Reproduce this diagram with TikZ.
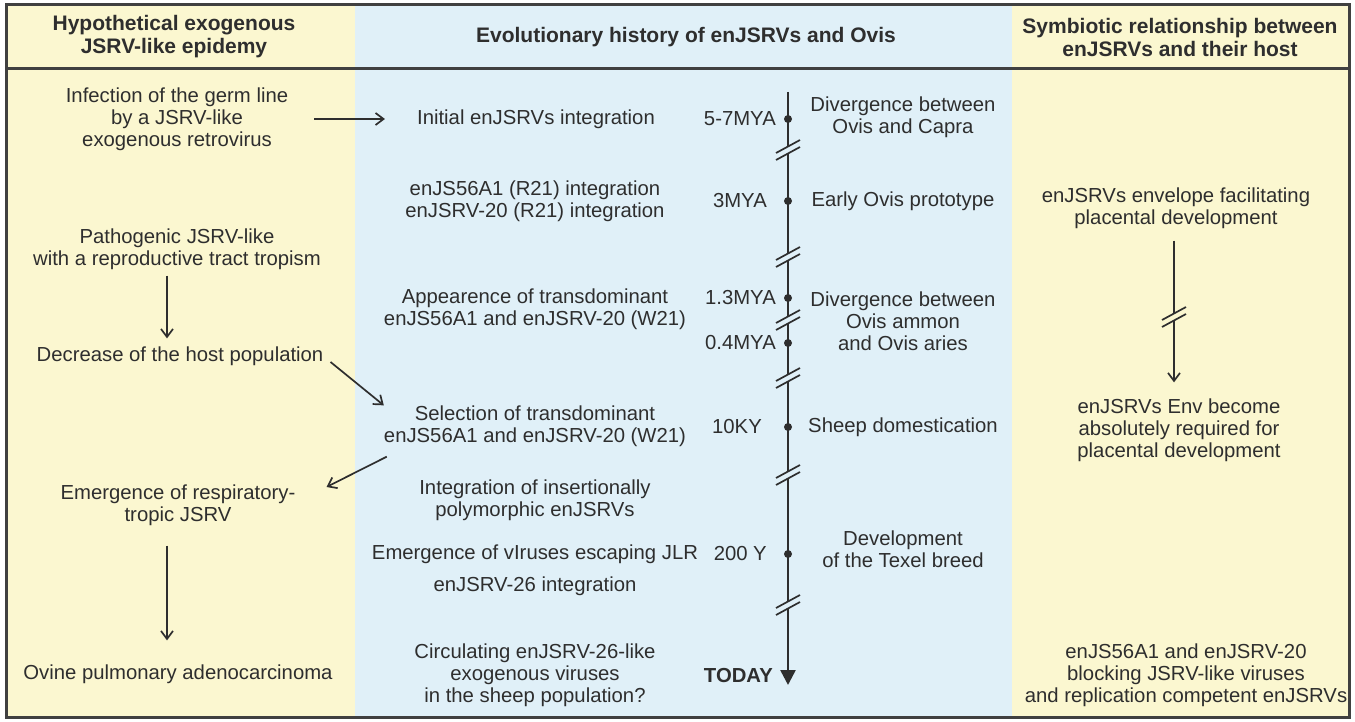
\documentclass[tikz,border=0pt]{standalone}
\usepackage{fontspec}
\setmainfont{Liberation Sans}
\usetikzlibrary{arrows.meta}

\definecolor{paleyellow}{HTML}{FBF7D0}
\definecolor{paleblue}{HTML}{E0F0F8}
\definecolor{inkgray}{HTML}{2E2E2E}
\definecolor{framegray}{HTML}{404040}

\tikzset{
  txt/.style={align=center, inner sep=0pt, text=inkgray, font=\fontsize{20.3}{22}\selectfont},
  hdr/.style={txt, font=\fontsize{21}{23}\selectfont\bfseries},
  flow/.style={draw=inkgray, line width=1.7pt, -{Straight Barb[length=8pt,width=12pt]}},
  timeline/.style={draw=inkgray, line width=2.6pt, -{Triangle[length=15pt,width=15pt]}},
  brk/.style={draw=inkgray, line width=1.7pt}
}

\begin{document}
\begin{tikzpicture}[x=1pt,y=-1pt]
                    \useasboundingbox (0,0) rectangle (1355,722);
                    \fill[paleyellow] (6,5) rectangle (355,717);
                    \fill[paleblue] (355,5) rectangle (1012,717);
                    \fill[paleyellow] (1012,5) rectangle (1349,717);
                    \draw[framegray, line width=3pt] (6,5) rectangle (1349,717);
                    \draw[framegray, line width=3pt] (6,69) -- (1349,69);

                    % headers
                    \node[hdr] (hleft) at (174,37) {Hypothetical exogenous\\JSRV-like epidemy};
                    \node[hdr] (hmid) at (686,37) {Evolutionary history of enJSRVs and Ovis};
                    \node[hdr] (hright) at (1180,37) {Symbiotic relationship between\\enJSRVs and their host};

                    % left column
                    \node[txt] (infect) at (177,119) {Infection of the germ line\\by a JSRV-like\\exogenous retrovirus};
                    \node[txt] (patho) at (177,249) {Pathogenic JSRV-like\\with a reproductive tract tropism};
                    \node[txt] (decrease) at (180,356) {Decrease of the host population};
                    \node[txt] (respir) at (178,505) {Emergence of respiratory-\\tropic JSRV};
                    \node[txt] (ovine) at (178,674) {Ovine pulmonary adenocarcinoma};

                    % middle column
                    \node[txt] (initial) at (536,119) {Initial enJSRVs integration};
                    \node[txt] (r21) at (535,201) {enJS56A1 (R21) integration\\enJSRV-20 (R21) integration};
                    \node[txt] (appear) at (535,309) {Appearence of transdominant\\enJS56A1 and enJSRV-20 (W21)};
                    \node[txt] (select) at (535,426) {Selection of transdominant\\enJS56A1 and enJSRV-20 (W21)};
                    \node[txt] (insert) at (535,500) {Integration of insertionally\\polymorphic enJSRVs};
                    \node[txt] (escape) at (535,554) {Emergence of vIruses escaping JLR};
                    \node[txt] (en26) at (535,586) {enJSRV-26 integration};
                    \node[txt] (circ) at (535,675) {Circulating enJSRV-26-like\\exogenous viruses\\in the sheep population?};

                    \node[txt, anchor=east] (t57) at (776,119) {5-7MYA};
                    \node[txt, anchor=east] (t3) at (767,201) {3MYA};
                    \node[txt, anchor=east] (t13) at (776,298) {1.3MYA};
                    \node[txt, anchor=east] (t04) at (776,343) {0.4MYA};
                    \node[txt, anchor=east] (t10k) at (762,427) {10KY};
                    \node[txt, anchor=east] (t200) at (767,554) {200 Y};
                    \node[txt, font=\fontsize{20.3}{22}\selectfont\bfseries, anchor=east] (today) at (773,676) {TODAY};

                    \node[txt] (capra) at (903,117) {Divergence between\\Ovis and Capra};
                    \node[txt] (proto) at (903,201) {Early Ovis prototype};
                    \node[txt] (aries) at (903,321) {Divergence between\\Ovis ammon\\and Ovis aries};
                    \node[txt] (domest) at (903,427) {Sheep domestication};
                    \node[txt] (texel) at (903,549) {Development\\of the Texel breed};

                    % right column
                    \node[txt] (envel) at (1176,208) {enJSRVs envelope facilitating\\placental development};
                    \node[txt] (envreq) at (1179,430) {enJSRVs Env become\\absolutely required for\\placental development};
                    \node[txt] (block) at (1186,675) {enJS56A1 and enJSRV-20\\blocking JSRV-like viruses\\and replication competent enJSRVs};

                    % time axis
                    \coordinate (tltop) at (788,92);
                    \coordinate (tlend) at (788,685);
                    \draw[timeline] (tltop) -- (tlend);
                    \foreach \y in {119,201,298,343,427,554}
                        \fill[inkgray] (788,\y) circle (4pt);
                    \foreach \y in {150,257,320,378,475,605} {
                        \begin{scope}[shift={(788,\y)}]
                            \fill[paleblue] (-12,3) -- (12,-10) -- (12,-3) -- (-12,10) -- cycle;
                            \draw[brk] (-12,3) -- (12,-10);
                            \draw[brk] (-12,10) -- (12,-3);
                        \end{scope}
                    }

                    % arrows
                    \draw[flow, shorten <=26pt, shorten >=32pt] (infect.east) -- (initial.west);
                    \draw[flow, shorten <=6pt, shorten >=8pt] ([xshift=-10pt]patho.south) -- ([xshift=-13pt]decrease.north);
                    \draw[flow] ([shift={(7,6)}]decrease.east) -- (select.north west);
                    \draw[flow] ([shift={(3,10)}]select.south west) -- ([shift={(31,-18)}]respir.east);
                    \draw[flow, shorten <=20pt, shorten >=24pt] ([xshift=-11pt]respir.south) -- ([xshift=-11pt]ovine.north);
                    \draw[flow, shorten <=12pt, shorten >=16pt] ([xshift=-2pt]envel.south) -- ([xshift=-5pt]envreq.north);
                    \begin{scope}[shift={(1174,317)}]
                        \fill[paleyellow] (-12,3) -- (12,-10) -- (12,-3) -- (-12,10) -- cycle;
                        \draw[brk] (-12,3) -- (12,-10);
                        \draw[brk] (-12,10) -- (12,-3);
                    \end{scope}
                \end{tikzpicture}
\end{document}
